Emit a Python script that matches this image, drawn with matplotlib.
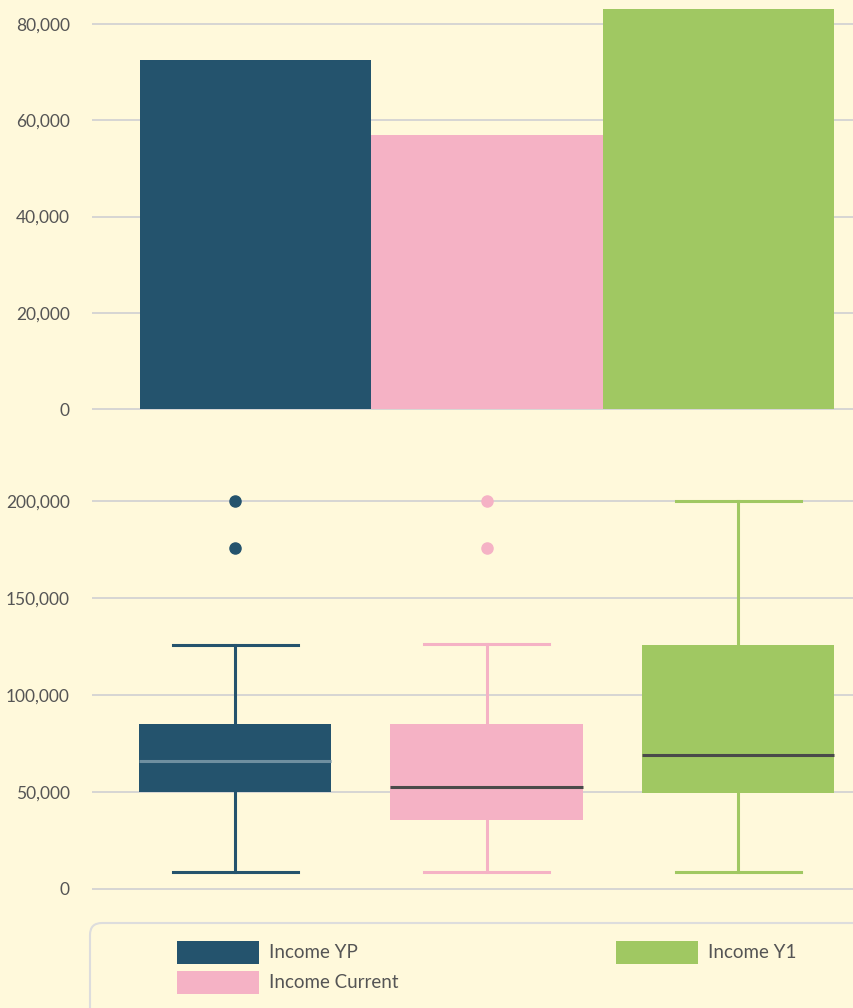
import matplotlib.pyplot as plt
from matplotlib.patches import Patch, FancyBboxPatch
from matplotlib.ticker import FuncFormatter

# data
series = ['Income YP', 'Income Current', 'Income Y1']
colors = ['#24536d', '#f5b2c5', '#a0c862']
mean_income = [72500, 57000, 83100]

q1 = [50000, 35500, 49500]
med = [66000, 52500, 69000]
q3 = [85000, 85000, 125800]
whislo = [9000, 9000, 9000]
whishi = [126000, 126300, 200000]
outliers = [[200000, 176000], [200000, 176000], []]
median_colors = ['#6f8fa0', '#4a4a4a', '#4a4a4a']

BG = '#fff9db'
GRID = '#d3d3d3'
TXT = '#555555'

plt.rcParams['font.family'] = ['Lato', 'DejaVu Sans']

W, H = 854, 1008
fig = plt.figure(figsize=(W / 100, H / 100), dpi=100, facecolor=BG)

def px_axes(left, top, right, bottom):
    return fig.add_axes([left / W, 1 - bottom / H, (right - left) / W, (bottom - top) / H])

fmt = FuncFormatter(lambda v, p: f'{int(v):,}')

def style(ax):
    ax.set_facecolor(BG)
    for s in ax.spines.values():
        s.set_visible(False)
    ax.set_axisbelow(True)
    ax.yaxis.grid(True, color=GRID, lw=1.3)
    ax.set_xticks([])
    ax.yaxis.set_major_formatter(fmt)
    ax.tick_params(axis='y', length=0, pad=16, labelsize=12.5, labelcolor=TXT)

# top: bar chart
ax1 = px_axes(92, 0, 881, 414)
style(ax1)
ax1.bar(range(3), mean_income, width=1.0, color=colors)
ax1.set_xlim(-0.7075, -0.7075 + 789 / 231.33)
ax1.set_ylim(-1039, 85000)
ax1.set_yticks([0, 20000, 40000, 60000, 80000])

# bottom: box plot
ax2 = px_axes(92, 480, 881, 895)
style(ax2)
for i in range(3):
    stats = [dict(q1=q1[i], med=med[i], q3=q3[i], whislo=whislo[i],
                  whishi=whishi[i], fliers=outliers[i])]
    ax2.bxp(stats, positions=[i], widths=0.767, capwidths=0.497,
            patch_artist=True, manage_ticks=False,
            boxprops=dict(facecolor=colors[i], edgecolor=colors[i], lw=0),
            whiskerprops=dict(color=colors[i], lw=2.2),
            capprops=dict(color=colors[i], lw=2.2),
            medianprops=dict(color=median_colors[i], lw=2.2),
            flierprops=dict(marker='o', markersize=8, markerfacecolor=colors[i],
                            markeredgecolor=colors[i]))
ax2.set_xlim(-0.5686, -0.5686 + 789 / 251.5)
ax2.set_ylim(-3100, 210800)
ax2.set_yticks([0, 50000, 100000, 150000, 200000])
ax2.set_xticks([])

# legend frame + entries
frame = FancyBboxPatch((90, -30), 820, 115, transform=None,
                       boxstyle='round,pad=0,rounding_size=12',
                       facecolor=BG, edgecolor='#dddddd', lw=1.5)
fig.patches.append(frame)

handles = [Patch(facecolor=c, edgecolor='none') for c in colors]
common = dict(frameon=False, borderpad=0, borderaxespad=0, fontsize=13.5,
              handlelength=4.37, handleheight=1.47, handletextpad=0.53,
              labelspacing=0.4, labelcolor=TXT, loc='upper left')
fig.legend(handles[:2], series[:2], bbox_to_anchor=(177 / W, 1 - 941 / H), **common)
fig.legend(handles[2:], series[2:], bbox_to_anchor=(616 / W, 1 - 941 / H), **common)

fig.savefig('out.png', dpi=100, facecolor=BG)
